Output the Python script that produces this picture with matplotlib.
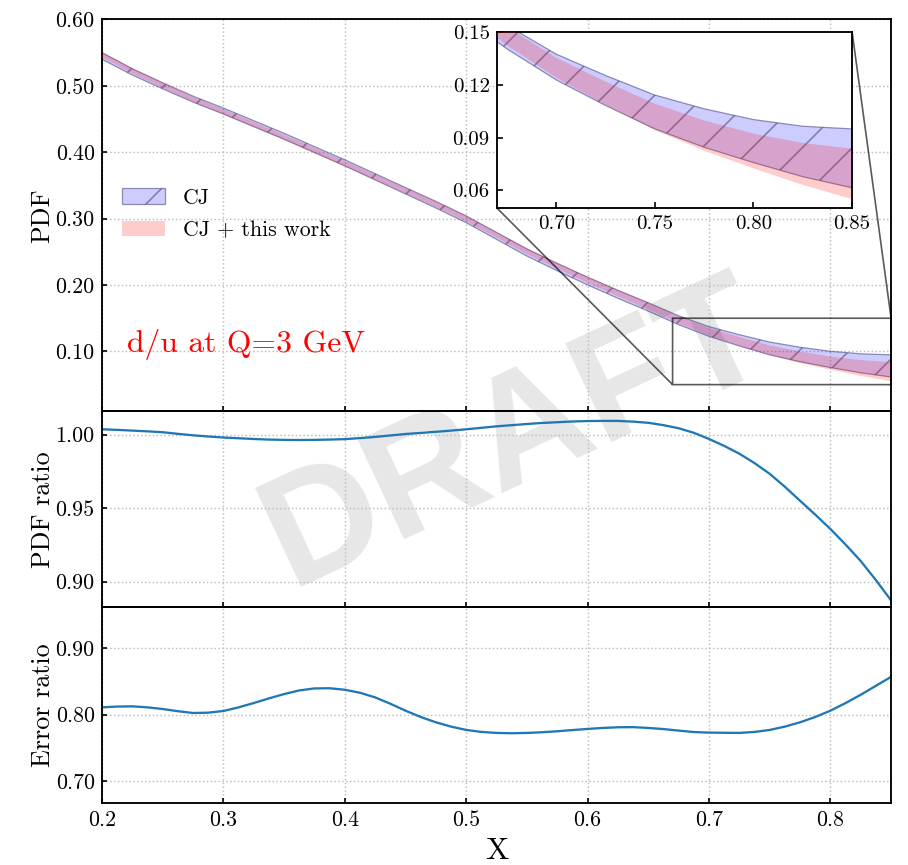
import numpy as np
import matplotlib
matplotlib.use("Agg")
import matplotlib.pyplot as plt
from matplotlib.ticker import FormatStrFormatter, FixedLocator

plt.rcParams['font.family'] = ['cmr10', 'DejaVu Serif']
plt.rcParams['mathtext.fontset'] = 'cm'
plt.rcParams['axes.formatter.use_mathtext'] = True
plt.rcParams['hatch.linewidth'] = 0.8

# ---------------- data ----------------
# PDF band grid (step 0.025)
x = [0.200, 0.225, 0.250, 0.275, 0.300, 0.325, 0.350, 0.375, 0.400, 0.425,
     0.450, 0.475, 0.500, 0.525, 0.550, 0.575, 0.600, 0.625, 0.650, 0.675,
     0.700, 0.725, 0.750, 0.775, 0.800, 0.825, 0.850]

cj_center = [0.545, 0.521, 0.500, 0.480, 0.462, 0.443, 0.424, 0.404, 0.384, 0.363,
             0.342, 0.321, 0.299, 0.274, 0.249, 0.227, 0.206, 0.186, 0.167, 0.147,
             0.130, 0.1167, 0.1045, 0.0954, 0.0880, 0.0821, 0.0782]

cj_err = [0.0050, 0.0048, 0.0046, 0.0045, 0.0045, 0.0045, 0.0045, 0.0045, 0.0046, 0.0047,
          0.0048, 0.0050, 0.0051, 0.0052, 0.0054, 0.0056, 0.0058, 0.0060, 0.0063, 0.0067,
          0.0073, 0.0085, 0.0096, 0.0109, 0.0122, 0.0143, 0.0167]

# ratio grid (step 0.0125)
x_ratio = [0.2000, 0.2125, 0.2250, 0.2375, 0.2500, 0.2625, 0.2750, 0.2875, 0.3000, 0.3125,
           0.3250, 0.3375, 0.3500, 0.3625, 0.3750, 0.3875, 0.4000, 0.4125, 0.4250, 0.4375,
           0.4500, 0.4625, 0.4750, 0.4875, 0.5000, 0.5125, 0.5250, 0.5375, 0.5500, 0.5625,
           0.5750, 0.5875, 0.6000, 0.6125, 0.6250, 0.6375, 0.6500, 0.6625, 0.6750, 0.6875,
           0.7000, 0.7125, 0.7250, 0.7375, 0.7500, 0.7625, 0.7750, 0.7875, 0.8000, 0.8125,
           0.8250, 0.8375, 0.8500]

pdf_ratio = [1.0036, 1.0032, 1.0027, 1.0022, 1.0016, 1.0005, 0.9995, 0.9987, 0.9980, 0.9975,
             0.9970, 0.9966, 0.9964, 0.9963, 0.9964, 0.9966, 0.9969, 0.9976, 0.9984, 0.9994,
             1.0004, 1.0011, 1.0019, 1.0027, 1.0036, 1.0046, 1.0056, 1.0064, 1.0072, 1.0079,
             1.0084, 1.0089, 1.0092, 1.0093, 1.0093, 1.0088, 1.0080, 1.0064, 1.0043, 1.0012,
             0.9970, 0.9923, 0.9870, 0.9806, 0.9733, 0.9645, 0.9550, 0.9456, 0.9358, 0.9252,
             0.9140, 0.9010, 0.8872]

err_ratio = [0.8110, 0.8122, 0.8125, 0.8110, 0.8085, 0.8052, 0.8025, 0.8030, 0.8055, 0.8110,
             0.8175, 0.8245, 0.8310, 0.8365, 0.8395, 0.8398, 0.8375, 0.8330, 0.8260, 0.8165,
             0.8060, 0.7965, 0.7885, 0.7820, 0.7770, 0.7740, 0.7725, 0.7720, 0.7725, 0.7735,
             0.7750, 0.7768, 0.7785, 0.7800, 0.7810, 0.7812, 0.7800, 0.7783, 0.7760, 0.7738,
             0.7730, 0.7727, 0.7725, 0.7740, 0.7770, 0.7820, 0.7885, 0.7965, 0.8060, 0.8175,
             0.8300, 0.8435, 0.8570]

labels = ["CJ", "CJ + this work"]
pdf_yticks = [0.10, 0.20, 0.30, 0.40, 0.50, 0.60]
ratio_yticks = [0.90, 0.95, 1.00]
err_yticks = [0.70, 0.80, 0.90]
x_ticks = [0.2, 0.3, 0.4, 0.5, 0.6, 0.7, 0.8]
inset_xticks = [0.70, 0.75, 0.80, 0.85]
inset_yticks = [0.06, 0.09, 0.12, 0.15]

xa = np.array(x)
cjc = np.array(cj_center)
cje = np.array(cj_err)
# ratio arrays sampled at the band grid (every second ratio point)
new_c = cjc * np.array(pdf_ratio)[::2]
new_e = cje * np.array(err_ratio)[::2]

# ---------------- figure ----------------
fig = plt.figure(figsize=(6.054, 5.767), dpi=150)
gs = fig.add_gridspec(3, 1, height_ratios=[2, 1, 1], hspace=0)
ax1 = fig.add_subplot(gs[0])
ax2 = fig.add_subplot(gs[1], sharex=ax1)
ax3 = fig.add_subplot(gs[2], sharex=ax1)
fig.subplots_adjust(left=0.1123, right=0.9813, top=0.9775, bottom=0.0717)

blue_face = (0, 0, 1, 0.2)
blue_edge = (0.25, 0.25, 0.45, 0.55)
red_face = (1, 0, 0, 0.2)


def draw_bands(ax):
    ax.fill_between(xa, cjc - cje, cjc + cje, facecolor=blue_face, edgecolor=blue_edge,
                    hatch='/', linewidth=0.6, label=labels[0], zorder=2)
    ax.fill_between(xa, new_c - new_e, new_c + new_e, facecolor=red_face,
                    edgecolor='none', linewidth=0, label=labels[1], zorder=3)


draw_bands(ax1)

grid_kw = dict(color='#bdbdbd', linestyle=':', linewidth=0.7)
for ax in (ax1, ax2, ax3):
    ax.set_facecolor('none')
    ax.grid(True, **grid_kw)
    ax.set_axisbelow(True)
    ax.tick_params(direction='in', length=2.5, width=0.8, labelsize=10.5,
                   top=False, right=False)
    for s in ax.spines.values():
        s.set_linewidth(0.9)

ax1.set_xlim(0.2, 0.85)
ax1.set_ylim(0.01, 0.6)
ax1.yaxis.set_major_locator(FixedLocator(pdf_yticks))
ax1.yaxis.set_major_formatter(FormatStrFormatter('%.2f'))
ax1.set_ylabel('PDF', fontsize=12.5, labelpad=0.5)
ax1.tick_params(labelbottom=False)

leg = ax1.legend(loc='upper left', bbox_to_anchor=(0.0, 0.62), frameon=False,
                 fontsize=10.5, handlelength=2.0, labelspacing=0.6)

ax1.text(0.032, 0.150, 'd/u at Q=3 GeV', transform=ax1.transAxes, color='red',
         fontsize=15.2, va='baseline', ha='left')

# inset
axins = ax1.inset_axes([0.5006, 0.5185, 0.4499, 0.4500])
draw_bands(axins)
axins.set_xlim(0.67, 0.85)
axins.set_ylim(0.05, 0.15)
axins.xaxis.set_major_locator(FixedLocator(inset_xticks))
axins.yaxis.set_major_locator(FixedLocator(inset_yticks))
axins.xaxis.set_major_formatter(FormatStrFormatter('%.2f'))
axins.yaxis.set_major_formatter(FormatStrFormatter('%.2f'))
axins.tick_params(direction='in', length=3, width=0.8, labelsize=10,
                  top=False, right=False)
for s in axins.spines.values():
    s.set_linewidth(0.9)
ax1.indicate_inset_zoom(axins, edgecolor='black', alpha=0.65, linewidth=0.8)

# PDF ratio
ax2.plot(x_ratio, pdf_ratio, color='#1f77b4', linewidth=1.1)
ax2.set_ylim(0.8827, 1.0159)
ax2.yaxis.set_major_locator(FixedLocator(ratio_yticks))
ax2.yaxis.set_major_formatter(FormatStrFormatter('%.2f'))
ax2.set_ylabel('PDF ratio', fontsize=12.5, labelpad=0.5)
ax2.tick_params(labelbottom=False)

# Error ratio
ax3.plot(x_ratio, err_ratio, color='#1f77b4', linewidth=1.1)
ax3.set_ylim(0.667, 0.962)
ax3.yaxis.set_major_locator(FixedLocator(err_yticks))
ax3.yaxis.set_major_formatter(FormatStrFormatter('%.2f'))
ax3.set_ylabel('Error ratio', fontsize=12.5, labelpad=0.5)
ax3.xaxis.set_major_locator(FixedLocator(x_ticks))
ax3.xaxis.set_major_formatter(FormatStrFormatter('%.1f'))
ax3.set_xlabel('X', fontsize=15, labelpad=3.5)

fig.align_ylabels([ax1, ax2, ax3])

fig.text(0.568, 0.495, 'DRAFT', rotation=25, ha='center', va='center',
         fontsize=76, fontweight='bold', family='Liberation Sans',
         color='#e7e7e7', zorder=-1)

fig.savefig('out.png', dpi=150)
